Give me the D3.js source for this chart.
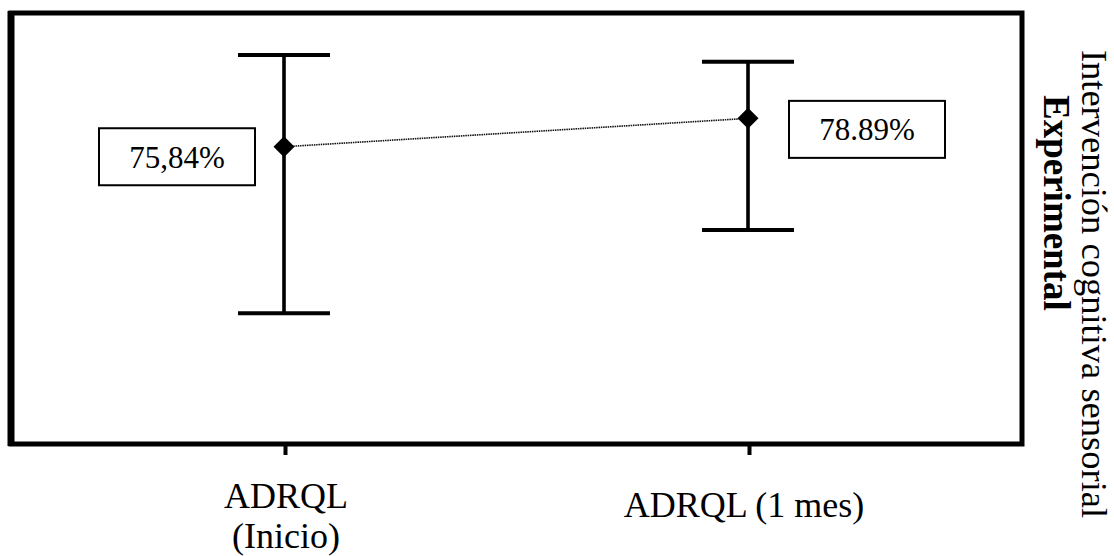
<!DOCTYPE html>
<html>
<head>
<meta charset="utf-8">
<script src="https://cdn.jsdelivr.net/npm/d3@7"></script>
<style>
  html, body { margin: 0; padding: 0; background: #fff; }
  svg { display: block; }
  text { font-family: "Liberation Serif", "Times New Roman", serif; fill: #000; }
</style>
</head>
<body>
<svg id="chart" width="1114" height="556"></svg>
<script>
// ---- data ----
const categories = ["ADRQL (Inicio)", "ADRQL (1 mes)"];
const categoryLines = [["ADRQL", "(Inicio)"], ["ADRQL (1 mes)"]];
const means = [75.84, 78.89];
const upper = [85.69, 84.97];
const lower = [57.95, 66.89];
const valueLabels = ["75,84%", "78.89%"];
const titleLines = ["Intervención cognitiva sensorial", "Experimental"];

// ---- layout ----
const W = 1114, H = 556;
const plot = { left: 11, top: 13, right: 1022, bottom: 444 };
const svg = d3.select("#chart");

const x = d3.scalePoint().domain(categories).range([284, 748]);
const y = d3.scaleLinear().domain([44, 90]).range([443, 15]);

// frame
svg.append("rect")
  .attr("x", plot.left).attr("y", plot.top)
  .attr("width", plot.right - plot.left).attr("height", plot.bottom - plot.top)
  .attr("fill", "none").attr("stroke", "#000").attr("stroke-width", 5);
svg.append("line")
  .attr("x1", plot.left).attr("x2", plot.left)
  .attr("y1", plot.top - 2).attr("y2", plot.bottom + 2)
  .attr("stroke", "#000").attr("stroke-width", 7);

// x axis ticks and labels
const xAxis = d3.axisBottom(x).tickSize(9).tickFormat("");
const gx = svg.append("g").attr("transform", `translate(1,${plot.bottom + 2})`).call(xAxis);
gx.select(".domain").remove();
gx.selectAll(".tick line").attr("stroke", "#000").attr("stroke-width", 4);

const labelY = [508, 517];
categories.forEach((c, i) => {
  const lines = categoryLines[i];
  const lx = x(c) + (i === 0 ? 2 : -4);
  const t = svg.append("text")
    .attr("text-anchor", "middle")
    .attr("font-size", 36)
    .attr("x", lx)
    .attr("y", labelY[i]);
  lines.forEach((ln, j) => {
    t.append("tspan").attr("x", lx).attr("dy", j === 0 ? 0 : 40).text(ln);
  });
});

// connecting dotted line
svg.append("path")
  .datum(categories.map((c, i) => [x(c), y(means[i])]))
  .attr("d", d3.line())
  .attr("fill", "none").attr("stroke", "#111")
  .attr("stroke-width", 1.6).attr("stroke-dasharray", "1.5,0.8");

// error bars
const capHalf = 46;
categories.forEach((c, i) => {
  const cx = x(c);
  svg.append("line")
    .attr("x1", cx).attr("x2", cx)
    .attr("y1", y(upper[i])).attr("y2", y(lower[i]))
    .attr("stroke", "#000").attr("stroke-width", 3.6);
  [upper[i], lower[i]].forEach(v => {
    svg.append("line")
      .attr("x1", cx - capHalf).attr("x2", cx + capHalf)
      .attr("y1", y(v)).attr("y2", y(v))
      .attr("stroke", "#000").attr("stroke-width", 4);
  });
  const r = 10.5;
  const cy = y(means[i]);
  svg.append("path")
    .attr("d", `M${cx},${cy - r}L${cx + r},${cy}L${cx},${cy + r}L${cx - r},${cy}Z`)
    .attr("fill", "#000");
});

// value label boxes
const boxDx = [-107, 119], boxDy = [10, 11];
const boxW = 156, boxH = 57;
categories.forEach((c, i) => {
  const bx = x(c) + boxDx[i];
  const by = y(means[i]) + boxDy[i];
  svg.append("rect")
    .attr("x", bx - boxW / 2).attr("y", by - boxH / 2)
    .attr("width", boxW).attr("height", boxH)
    .attr("fill", "#fff").attr("stroke", "#000").attr("stroke-width", 2);
  svg.append("text")
    .attr("x", bx).attr("y", by + 11)
    .attr("text-anchor", "middle").attr("font-size", 31)
    .text(valueLabels[i]);
});

// rotated right-hand title
const tg = svg.append("g").attr("transform", "translate(1082,284) rotate(90)");
tg.append("text").attr("text-anchor", "middle").attr("font-size", 36.5).attr("y", 0).text(titleLines[0]);
tg.append("text").attr("text-anchor", "start").attr("font-size", 37).attr("font-weight", "bold")
  .attr("x", -189).attr("y", 38).text(titleLines[1]);
</script>
</body>
</html>
